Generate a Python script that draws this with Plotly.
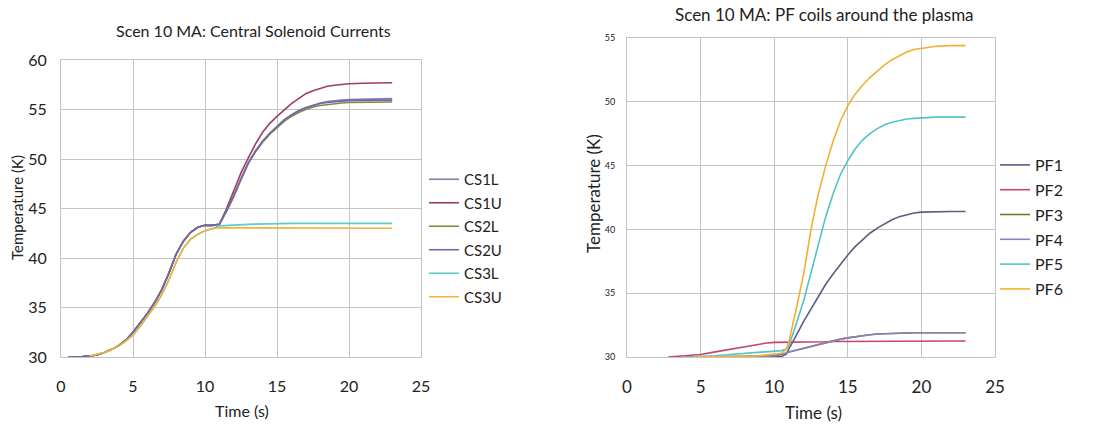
import plotly.graph_objects as go

# ---------------- Left chart data: Central Solenoid currents ----------------
t_cs = [0.5, 1, 1.5, 2, 2.5, 3, 3.5, 4, 4.5, 5, 5.5, 6, 6.5, 7, 7.5, 8, 8.5, 9, 9.5, 10,
        10.5, 11, 11.5, 12, 12.5, 13, 13.5, 14, 14.5, 15, 15.5, 16, 16.5, 17, 17.5, 18,
        18.5, 19, 19.5, 20, 21, 22, 23]

cs1l = [30.0, 30.0, 30.05, 30.1, 30.2, 30.45, 30.75, 31.15, 31.7, 32.5, 33.4, 34.4, 35.5, 36.8,
        38.5, 40.4, 41.7, 42.6, 43.1, 43.3, 43.3, 43.4, 44.8, 46.3, 48.0, 49.6, 50.8, 51.8,
        52.6, 53.3, 53.95, 54.45, 54.9, 55.2, 55.45, 55.65, 55.8, 55.9, 55.95, 56.0, 56.05, 56.1, 56.1]
cs1u = [30.0, 30.0, 30.05, 30.1, 30.2, 30.45, 30.75, 31.15, 31.7, 32.5, 33.4, 34.4, 35.5, 36.8,
        38.5, 40.4, 41.7, 42.6, 43.1, 43.3, 43.3, 43.4, 45.0, 46.8, 48.6, 50.1, 51.5, 52.7,
        53.6, 54.3, 55.0, 55.6, 56.1, 56.6, 56.9, 57.15, 57.35, 57.45, 57.55, 57.6, 57.65, 57.7, 57.7]
cs2l = [30.0, 30.0, 30.05, 30.1, 30.2, 30.45, 30.75, 31.15, 31.7, 32.5, 33.4, 34.4, 35.5, 36.8,
        38.5, 40.4, 41.7, 42.6, 43.1, 43.3, 43.3, 43.4, 44.7, 46.2, 47.9, 49.5, 50.7, 51.7,
        52.5, 53.2, 53.8, 54.3, 54.7, 55.0, 55.25, 55.4, 55.5, 55.6, 55.65, 55.7, 55.72, 55.75, 55.75]
cs2u = [30.0, 30.0, 30.05, 30.1, 30.2, 30.45, 30.75, 31.15, 31.7, 32.5, 33.4, 34.4, 35.5, 36.8,
        38.5, 40.4, 41.7, 42.6, 43.1, 43.3, 43.3, 43.4, 44.8, 46.3, 48.0, 49.6, 50.8, 51.8,
        52.6, 53.3, 53.95, 54.45, 54.85, 55.15, 55.4, 55.6, 55.7, 55.8, 55.85, 55.9, 55.92, 55.95, 55.95]
cs3l = [None, None, None, 30.1, 30.25, 30.45, 30.75, 31.1, 31.6, 32.2, 33.1, 34.1, 35.1, 36.3,
        37.8, 39.6, 41.0, 41.9, 42.4, 42.75, 42.95, 43.25, 43.3, 43.35, 43.37, 43.4, 43.42, 43.45,
        43.47, 43.5, 43.5, 43.5, 43.5, 43.5, 43.5, 43.5, 43.5, 43.5, 43.5, 43.5, 43.5, 43.5, 43.5]
cs3u = [None, None, None, 30.1, 30.25, 30.45, 30.75, 31.1, 31.6, 32.2, 33.1, 34.1, 35.1, 36.3,
        37.8, 39.6, 41.0, 41.9, 42.4, 42.75, 42.95, 43.05, 43.05, 43.0, 43.0, 43.0, 43.0, 43.0,
        43.0, 43.0, 43.0, 43.0, 43.0, 43.0, 43.0, 43.0, 43.0, 43.0, 43.0, 43.0, 43.0, 43.0, 43.0]

cs_names = ["CS1L", "CS1U", "CS2L", "CS2U", "CS3L", "CS3U"]
cs_series = [cs1l, cs1u, cs2l, cs2u, cs3l, cs3u]
cs_colors = ["#7c7fb0", "#9e3d62", "#7b913c", "#7566ad", "#5ccbcc", "#f2b23c"]

# ---------------- Right chart data: PF coils ----------------
t_pf = [2.8, 3.5, 4, 4.5, 5, 6, 7, 8, 8.8, 9, 9.5, 10, 10.5, 10.8, 11, 11.5, 12, 12.5, 13,
        13.5, 14, 14.5, 15, 15.5, 16, 16.5, 17, 17.5, 18, 18.5, 19, 19.5, 20, 21, 22, 23]

pf1 = [None, None, 30.0, 30.0, 30.0, 30.02, 30.03, 30.05, 30.05, 30.05, 30.0, 30.0, 30.05, 30.2,
       30.6, 31.7, 32.8, 33.8, 34.8, 35.7, 36.5, 37.3, 38.0, 38.65, 39.2, 39.7, 40.1, 40.45,
       40.75, 41.0, 41.15, 41.28, 41.35, 41.4, 41.4, 41.4]
pf2 = [30.0, 30.05, 30.1, 30.15, 30.2, 30.4, 30.6, 30.8, 31.0, 31.05, 31.1, 31.15, 31.15, 31.15,
       31.18, 31.2, 31.2, 31.2, 31.2, 31.2, 31.22, 31.22, 31.22, 31.22, 31.23, 31.23, 31.23, 31.23,
       31.24, 31.24, 31.24, 31.24, 31.25, 31.25, 31.25, 31.25]
pf3 = [None, None, 30.0, 30.0, 30.0, 30.0, 30.02, 30.03, 30.05, 30.05, 30.05, 30.1, 30.2, 30.3,
       30.4, 30.55, 30.7, 30.85, 31.0, 31.15, 31.3, 31.4, 31.5, 31.6, 31.68, 31.75, 31.8, 31.83,
       31.85, 31.87, 31.9, 31.9, 31.9, 31.9, 31.9, 31.9]
pf4 = [None, None, 30.0, 30.0, 30.0, 30.0, 30.02, 30.03, 30.05, 30.05, 30.05, 30.1, 30.2, 30.3,
       30.4, 30.55, 30.7, 30.85, 31.0, 31.15, 31.3, 31.4, 31.5, 31.6, 31.68, 31.75, 31.8, 31.83,
       31.85, 31.87, 31.9, 31.9, 31.9, 31.9, 31.9, 31.9]
pf5 = [None, None, 30.0, 30.02, 30.05, 30.1, 30.2, 30.3, 30.38, 30.4, 30.42, 30.45, 30.5, 30.6,
       30.9, 32.6, 34.4, 36.6, 38.8, 41.0, 42.8, 44.3, 45.4, 46.3, 47.0, 47.5, 47.9, 48.2,
       48.4, 48.55, 48.65, 48.7, 48.75, 48.8, 48.8, 48.8]
pf6 = [None, None, None, 30.0, 30.0, 30.0, 30.02, 30.05, 30.08, 30.1, 30.15, 30.2, 30.3, 30.6,
       31.2, 33.8, 36.5, 40.0, 42.8, 45.0, 46.9, 48.5, 49.7, 50.6, 51.3, 51.9, 52.4, 52.9,
       53.3, 53.6, 53.9, 54.1, 54.2, 54.35, 54.4, 54.4]

pf_names = ["PF1", "PF2", "PF3", "PF4", "PF5", "PF6"]
pf_series = [pf1, pf2, pf3, pf4, pf5, pf6]
pf_colors = ["#5b5b85", "#c4446e", "#6e7d2c", "#8a80c2", "#52c4c4", "#f2b032"]

FONT = "Lato, 'Open Sans', sans-serif"
W, H = 1096, 426

def px_x(p):
    return p / W

def px_y(p):
    return 1 - p / H

fig = go.Figure()

for i, (name, ys, col) in enumerate(zip(cs_names, cs_series, cs_colors)):
    fig.add_trace(go.Scatter(x=t_cs, y=ys, name=name, mode="lines",
                             line=dict(color=col, width=1.6), xaxis="x", yaxis="y",
                             legend="legend", legendgroup="cs" + str(i),
                             connectgaps=False))

for i, (name, ys, col) in enumerate(zip(pf_names, pf_series, pf_colors)):
    fig.add_trace(go.Scatter(x=t_pf, y=ys, name=name, mode="lines",
                             line=dict(color=col, width=1.6), xaxis="x2", yaxis="y2",
                             legend="legend2", legendgroup="pf" + str(i),
                             connectgaps=False))

grid = "#c4c4c4"
common_axis = dict(showgrid=True, gridcolor=grid, gridwidth=1, showline=True,
                   linecolor=grid, linewidth=1, mirror=True, zeroline=False,
                   ticks="", color="#222", automargin=False)

def label(text, x, y, size, angle=0):
    return dict(text=text, x=px_x(x), y=px_y(y), xref="paper", yref="paper",
                showarrow=False, xanchor="center", yanchor="middle", textangle=angle,
                font=dict(size=size, family=FONT, color="#222"))

fig.update_layout(
    width=W, height=H,
    margin=dict(l=0, r=0, t=0, b=0, autoexpand=False),
    paper_bgcolor="white", plot_bgcolor="white",
    font=dict(family=FONT, color="#222"),
    showlegend=True,
    xaxis=dict(domain=[px_x(61), px_x(421)], range=[0, 25], dtick=5, anchor="y",
               tickfont=dict(size=16), ticklabelstandoff=15, **common_axis),
    yaxis=dict(domain=[px_y(357), px_y(60)], range=[30, 60], dtick=5, anchor="x",
               tickfont=dict(size=16), ticklabelstandoff=10, **common_axis),
    xaxis2=dict(domain=[px_x(627), px_x(995)], range=[0, 25], dtick=5, anchor="y2",
                tickfont=dict(size=17), ticklabelstandoff=15, **common_axis),
    yaxis2=dict(domain=[px_y(357), px_y(38)], range=[30, 55], dtick=5, anchor="x2",
                tickfont=dict(size=9), ticklabelstandoff=9, **common_axis),
    legend=dict(x=px_x(424), y=px_y(163), xanchor="left", yanchor="top",
                font=dict(size=15), tracegroupgap=1, bgcolor="rgba(0,0,0,0)",
                itemwidth=30),
    legend2=dict(x=px_x(995), y=px_y(148), xanchor="left", yanchor="top",
                 font=dict(size=16), tracegroupgap=1, bgcolor="rgba(0,0,0,0)",
                 itemwidth=30),
    annotations=[
        label("Scen 10 MA: Central Solenoid Currents", 253, 30, 16),
        label("Scen 10 MA: PF coils around the plasma", 824, 15, 17),
        label("Time (s)", 242, 410, 16),
        label("Time (s)", 813, 412, 17),
        label("Temperature (K)", 17, 208, 15, -90),
        label("Temperature (K)", 593, 194, 17, -90),
    ],
)

fig.write_html("out.html", config={"displayModeBar": False},
               post_script="document.body.style.margin='0';")
